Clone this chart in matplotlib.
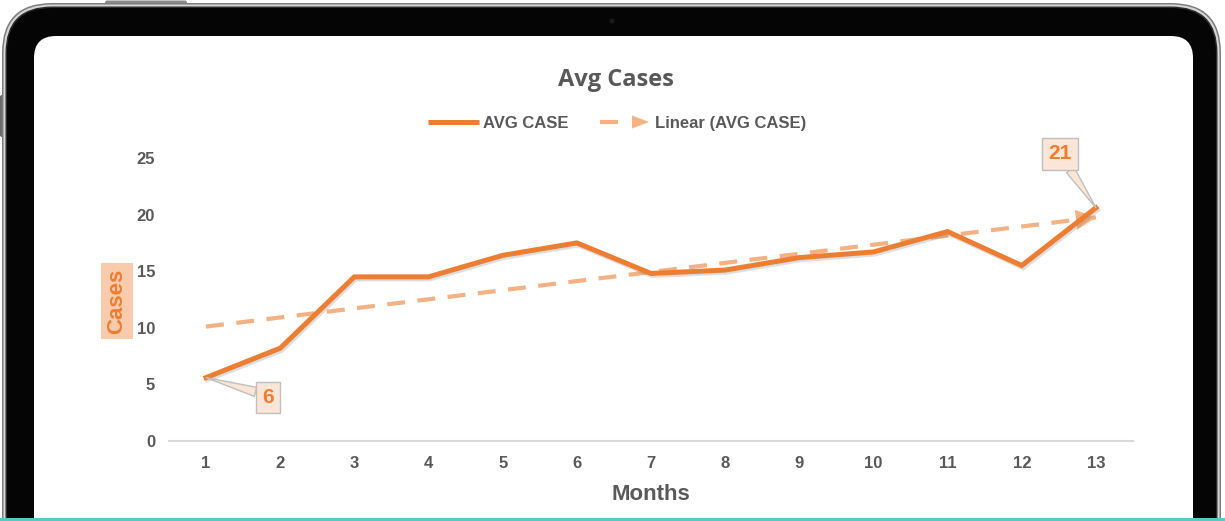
import numpy as np
import matplotlib
matplotlib.use("Agg")
import matplotlib.pyplot as plt
import matplotlib.patheffects as pe
from matplotlib.patches import FancyBboxPatch, Rectangle, Circle

# ---- data ----
months = [1, 2, 3, 4, 5, 6, 7, 8, 9, 10, 11, 12, 13]
avg_case = [5.6, 8.2, 14.5, 14.5, 16.4, 17.5, 14.8, 15.1, 16.2, 16.7, 18.5, 15.5, 20.6]
y_ticks = [0, 5, 10, 15, 20, 25]
labelled_points = [0, 12]

# ---- style ----
ORANGE = "#ED7D31"
TREND = "#F4B183"
GREY_TXT = "#595959"
AXIS_GREY = "#D9D9D9"
LABEL_FILL = "#FBE5D6"
LABEL_EDGE = "#BFBFBF"
FONT = "Liberation Sans"

W, H = 1225, 521
fig = plt.figure(figsize=(W / 100, H / 100), dpi=100, facecolor="white")

# ---- tablet frame (pixel-space background axes) ----
bg = fig.add_axes([0, 0, 1, 1], zorder=0)
bg.set_xlim(0, W)
bg.set_ylim(H, 0)
bg.axis("off")

def rounded(x, y, w, h, r, fc):
    bg.add_patch(FancyBboxPatch((x, y), w, h,
                                boxstyle=f"round,pad=0,rounding_size={r}",
                                fc=fc, ec="none"))

bg.add_patch(FancyBboxPatch((105, 0.5), 82, 5, boxstyle="round,pad=0,rounding_size=2",
                            fc="#8a8a8a", ec="none"))
bg.add_patch(FancyBboxPatch((0, 95), 5, 42, boxstyle="round,pad=0,rounding_size=2",
                            fc="#6a6a6a", ec="none"))
rounded(2, 3, 1219, 640, 50, "#7d7d7d")
rounded(3.5, 4.5, 1216, 640, 48.5, "#d6d6d6")
rounded(5.5, 6.5, 1212, 640, 46.5, "#2b2b2b")
rounded(7, 8, 1209, 640, 45, "#050505")
rounded(34, 36, 1159, 640, 22, "white")
bg.add_patch(Circle((612, 21), 2.5, fc="#1a1a1a", ec="none"))
bg.add_patch(Rectangle((0, 518), W, 4, fc="#5EC6C8", ec="none"))

# ---- legend ----
bg.plot([428, 479], [122, 122], color=ORANGE, lw=3.6, solid_capstyle="butt")
bg.text(483, 128, "AVG CASE", fontsize=12, fontweight="bold", color=GREY_TXT,
        family=FONT, va="baseline", ha="left")
bg.plot([600, 618], [122, 122], color=TREND, lw=3, solid_capstyle="butt")
bg.fill([632, 649, 632], [115.5, 122, 128.5], color=TREND, lw=0)
bg.text(655, 128, "Linear (AVG CASE)", fontsize=12, fontweight="bold", color=GREY_TXT,
        family=FONT, va="baseline", ha="left")

# ---- chart ----
ax = fig.add_axes([169 / W, 80 / H, 964 / W, 283 / H], zorder=2)
ax.set_facecolor("none")
ax.set_xlim(0.5, 13.5)
ax.set_ylim(0, 25)
for s in ("top", "right", "left"):
    ax.spines[s].set_visible(False)
ax.spines["bottom"].set_color(AXIS_GREY)
ax.spines["bottom"].set_linewidth(1.5)
ax.set_xticks(months)
ax.set_yticks(y_ticks)
ax.tick_params(length=0, labelsize=12, labelcolor=GREY_TXT)
ax.tick_params(axis="y", pad=10)
ax.tick_params(axis="x", pad=11)
for lab in ax.get_xticklabels() + ax.get_yticklabels():
    lab.set_fontweight("bold")
    lab.set_family(FONT)

# trend line (least squares) with arrow tip
coef = np.polyfit(months, avg_case, 1)
trend = np.polyval(coef, months)
ax.plot(months, trend, color=TREND, lw=3, dashes=(4.3, 3.0),
        dash_capstyle="butt", zorder=3)
x_end = months[-1]
ax.annotate("", xy=(x_end, np.polyval(coef, x_end)),
            xytext=(x_end - 0.2, np.polyval(coef, x_end - 0.2)),
            arrowprops=dict(arrowstyle="-|>,head_length=0.9,head_width=0.45",
                            color=TREND, lw=0, shrinkA=0, shrinkB=0,
                            mutation_scale=16), zorder=3)

# main series with soft shadow
ax.plot(months, avg_case, color=ORANGE, lw=3.6, solid_joinstyle="miter", zorder=4,
        path_effects=[pe.SimpleLineShadow(offset=(1, -1.5), shadow_color="#7f7f7f",
                                          alpha=0.25),
                      pe.Normal()])

# callout labels
offsets = {0: (62, -20), 12: (-36, 54)}
relpos = {0: (0.0, 0.7), 12: (0.75, 0.0)}
for i in labelled_points:
    ax.annotate(f"{avg_case[i]:.0f}", xy=(months[i], avg_case[i]),
                xytext=offsets[i], textcoords="offset pixels",
                ha="center", va="center", fontsize=15, fontweight="bold",
                color=ORANGE, family=FONT, zorder=6,
                bbox=dict(boxstyle="square,pad=0.3", fc=LABEL_FILL, ec=LABEL_EDGE, lw=1),
                arrowprops=dict(arrowstyle="wedge,tail_width=0.45", fc=LABEL_FILL,
                                ec=LABEL_EDGE, lw=1, shrinkA=0, shrinkB=0,
                                relpos=relpos[i]))

ax.set_xlabel("Months", fontsize=16, fontweight="bold", color=GREY_TXT,
              family=FONT, labelpad=9)
ax.set_ylabel("Cases", fontsize=16, fontweight="bold", color=ORANGE, family=FONT,
              va="center", ha="center",
              bbox=dict(boxstyle="square,pad=0.25", fc="#F8CBAD", ec="none"))
ax.yaxis.set_label_coords(-0.054, 0.495)
ax.set_title("Avg Cases", fontsize=17, fontweight="bold", color=GREY_TXT,
             family="Open Sans", x=0.464, pad=52)

fig.savefig("out.png", dpi=100)
